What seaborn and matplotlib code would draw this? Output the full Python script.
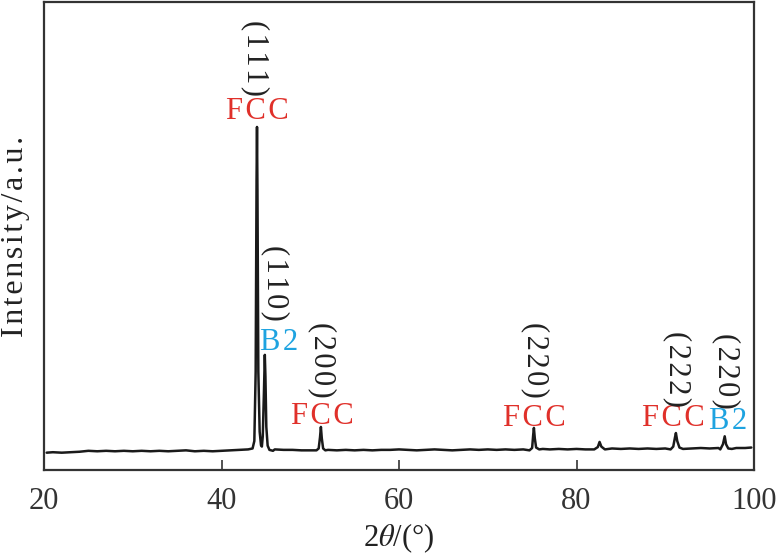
import numpy as np
import pandas as pd
import seaborn as sns
import matplotlib.pyplot as plt

# XRD pattern (2theta in degrees, intensity in arbitrary units)
two_theta = [20.3, 21, 22, 23, 24, 25, 26, 27, 28, 29, 30, 31, 32, 33, 34, 35, 36, 37, 38, 39,
             40, 41, 42, 43, 43.5, 43.7, 43.85, 43.95, 44.0, 44.05, 44.15, 44.3, 44.45, 44.55,
             44.65, 44.78, 44.88, 44.95, 45.05, 45.2, 45.4, 45.8, 46, 47, 48, 49, 50, 50.7,
             50.95, 51.1, 51.2, 51.3, 51.45, 51.7, 52, 53, 54, 55, 56, 57, 58, 59, 60, 61, 62,
             63, 64, 65, 66, 67, 68, 69, 70, 71, 72, 73, 74, 74.7, 75.0, 75.12, 75.2, 75.3,
             75.45, 75.8, 76.2, 77, 78, 79, 80, 81, 82.0, 82.4, 82.6, 82.8, 83.2, 84, 85, 86,
             87, 88, 89, 90, 90.6, 90.9, 91.1, 91.2, 91.35, 91.6, 92.0, 93, 94, 95, 96, 96.2,
             96.5, 96.7, 96.85, 97.1, 97.5, 98, 99, 99.7]
intensity = [37, 38, 37, 38, 39, 41, 40, 41, 40, 41, 40, 41, 40, 41, 40, 41, 42, 40, 41, 40,
             41, 42, 43, 44, 46, 62, 210, 620, 733, 600, 210, 82, 53, 50,
             72, 165, 246, 200, 92, 52, 43, 41, 44, 43, 43, 42, 42, 42,
             46, 70, 92, 68, 46, 42, 43, 42, 43, 42, 43, 42, 43, 43, 44, 43, 42,
             43, 44, 43, 42, 43, 44, 43, 44, 43, 44, 43, 44, 42, 47, 75, 90, 68,
             48, 44, 45, 44, 45, 44, 45, 44, 44, 49, 60, 50, 44, 46, 45, 46,
             45, 46, 45, 46, 44, 50, 70, 79, 62, 48, 45, 46, 47, 46, 47, 44,
             55, 72, 55, 46, 45, 47, 47, 48]

# peak annotations: position of label, phase, color, miller index
label_x = [44.0, 44.9, 51.2, 75.2, 91.2, 96.7]
label_top = [733, 246, 92, 90, 79, 72]
phase = ["FCC", "B2", "FCC", "FCC", "FCC", "B2"]
hkl = ["(111)", "(110)", "(200)", "(220)", "(222)", "(220)"]

RED = "#e0302a"
BLUE = "#1ea3e0"
HAIR = "\u200a"

sns.set_style("ticks")
plt.rcParams["font.family"] = ["Liberation Serif", "DejaVu Serif"]
plt.rcParams["mathtext.fontset"] = "stix"

df = pd.DataFrame({"two_theta": two_theta, "intensity": intensity})

fig = plt.figure(figsize=(7.8, 5.54), dpi=100)
ax = fig.add_axes([44 / 780, 1 - 470 / 554, 710 / 780, 468 / 554])
sns.lineplot(data=df, x="two_theta", y="intensity", color="#1a1a1a", linewidth=1.8, ax=ax)

ax.set_xlim(20, 100)
ax.set_ylim(0, 1000)
ax.set_xticks([20, 40, 60, 80, 100])
ax.set_yticks([])
ax.tick_params(axis="x", direction="in", length=7, width=1.2, labelsize=22,
               labelcolor="#333333", pad=12, color="#333333")
for s in ax.spines.values():
    s.set_linewidth(1.6)
    s.set_color("#333333")

ax.set_xlabel(r"2$\theta$/(°)", fontsize=22, color="#222222", labelpad=4)
ax.set_ylabel(HAIR.join("Intensity/a.u."), fontsize=23, color="#222222", labelpad=10)

# label offsets (in data units)
phase_dx = [0.0, 1.6, 0.2, 0.0, -0.3, 0.4]
phase_dy = [33, 27, 23, 21, 30, 32]
hkl_dx = [-0.2, 1.2, 0.2, 0.2, 0.1, 0.2]
hkl_dy = [115, 126, 120, 125, 106, 108]
for x, top, ph, ind, pdx, pdy, hdx, hdy in zip(label_x, label_top, phase, hkl,
                                               phase_dx, phase_dy, hkl_dx, hkl_dy):
    ax.text(x + pdx, top + pdy, HAIR.join(ph), color=RED if ph == "FCC" else BLUE,
            fontsize=22, ha="center", va="center")
    ax.text(x + hdx, top + pdy + hdy, HAIR.join(ind), color="#222222", fontsize=22,
            rotation=-90, ha="center", va="center")

fig.savefig("out.png", dpi=100)
